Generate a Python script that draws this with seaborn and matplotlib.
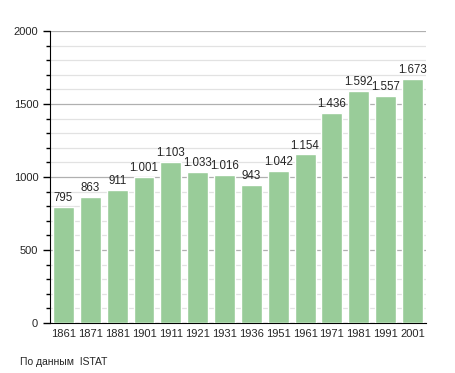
import matplotlib
matplotlib.use("Agg")
import matplotlib.pyplot as plt
from matplotlib.ticker import MultipleLocator
import seaborn as sns
import pandas as pd

# population by census year (source: ISTAT)
years = ["1861", "1871", "1881", "1901", "1911", "1921", "1931",
         "1936", "1951", "1961", "1971", "1981", "1991", "2001"]
population = [795, 863, 911, 1001, 1103, 1033, 1016,
              943, 1042, 1154, 1436, 1592, 1557, 1673]

df = pd.DataFrame({"year": years, "pop": population})

sns.set_style("white")
plt.rcParams["font.family"] = ["Liberation Sans", "DejaVu Sans"]

fig = plt.figure(figsize=(4.55, 3.73), dpi=100)
ax = fig.add_axes([0.110, 0.134, 0.826, 0.783])

sns.barplot(data=df, x="year", y="pop", color="#99cc99", saturation=1,
            width=0.78, ax=ax, zorder=3)

ax.set_ylim(0, 2000)
ax.set_xlim(-0.5, len(years) - 0.5)
ax.yaxis.set_major_locator(MultipleLocator(500))
ax.yaxis.set_minor_locator(MultipleLocator(100))
ax.grid(which="major", axis="y", color="#b0b0b0", linewidth=0.9, zorder=0)
ax.grid(which="minor", axis="y", color="#e2e2e2", linewidth=0.9, zorder=0)
ax.set_axisbelow(True)

for s in ["top", "right"]:
    ax.spines[s].set_visible(False)
ax.spines["left"].set_color("black")
ax.spines["bottom"].set_color("black")

ax.tick_params(axis="y", which="major", length=5, width=1, color="black",
               labelsize=8, left=True)
ax.tick_params(axis="y", which="minor", length=3, width=1, color="black",
               left=True)
ax.tick_params(axis="x", length=0, labelsize=8, pad=4)
ax.set_xlabel("")
ax.set_ylabel("")

for i, v in enumerate(population):
    lbl = f"{v:,}".replace(",", ".")
    ax.text(i, v + 20, lbl, ha="center", va="bottom", fontsize=8.3, zorder=4)

fig.text(0.044, 0.015, "По данным  ISTAT", fontsize=7.5, ha="left", va="bottom")

fig.savefig("out.png", dpi=100)
